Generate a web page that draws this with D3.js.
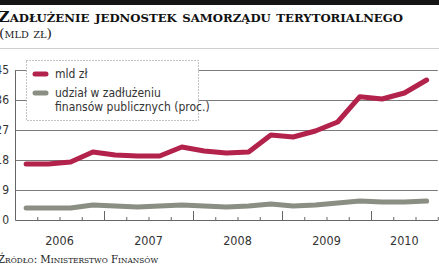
<!DOCTYPE html>
<html>
<head>
<meta charset="utf-8">
<script src="https://cdn.jsdelivr.net/npm/d3@7"></script>
<style>
  body { margin: 0; background: #fff; }
  .cond { font-family: "DejaVu Sans Condensed", "Liberation Sans Narrow", "Roboto", sans-serif; font-stretch: condensed; }
</style>
</head>
<body>
<div id="chart"></div>
<script>
// quarterly data, Q1 2006 .. Q3 2010
const years = ["2006", "2007", "2008", "2009", "2010"];
const debtBn = [16.8, 16.8, 17.4, 20.4, 19.5, 19.2, 19.2, 21.9, 20.7, 20.1, 20.4, 25.5,
                24.9, 26.7, 29.4, 37.0, 36.3, 38.1, 42.0];
const sharePct = [3.6, 3.6, 3.6, 4.5, 4.2, 3.9, 4.2, 4.5, 4.2, 3.9, 4.2, 4.8,
                  4.2, 4.5, 5.1, 5.7, 5.4, 5.4, 5.7];
const yTicks = [0, 9, 18, 27, 36, 45];
const legendLabels = [["mld zł"], ["udział w zadłużeniu", "finansów publicznych (proc.)"]];

const width = 439, height = 268;
const red = "#b2224b", grey = "#8b8e83";

const svg = d3.select("#chart").append("svg")
    .attr("width", width)
    .attr("height", height);

// top black bar and separator
svg.append("rect").attr("x", 0).attr("y", 0).attr("width", width).attr("height", 5).attr("fill", "#151515");
svg.append("line").attr("x1", 0).attr("x2", width).attr("y1", 48.5).attr("y2", 48.5)
    .attr("stroke", "#cfcfcf").attr("stroke-width", 1);

// title
svg.append("text")
    .attr("x", -2).attr("y", 22)
    .attr("textLength", 405).attr("lengthAdjust", "spacingAndGlyphs")
    .style("font-family", "'DejaVu Serif', serif")
    .style("font-weight", "bold")
    .style("font-variant", "small-caps")
    .style("font-size", "15px")
    .attr("fill", "#111")
    .text("Zadłużenie jednostek samorządu terytorialnego");
svg.append("text")
    .attr("x", -1).attr("y", 38)
    .attr("textLength", 53).attr("lengthAdjust", "spacingAndGlyphs")
    .style("font-family", "'DejaVu Serif', serif")
    .style("font-variant", "small-caps")
    .style("font-size", "13px")
    .attr("fill", "#222")
    .text("(mld zł)");

const x = d3.scaleLinear().domain([0, 19]).range([15, 437.75]);
const y = d3.scaleLinear().domain([0, 45]).range([220, 70]);

// gridlines
svg.append("g").selectAll("line")
    .data(yTicks.filter(d => d > 0))
    .join("line")
    .attr("x1", x(0)).attr("x2", x(19))
    .attr("y1", d => Math.round(y(d)) + 0.5).attr("y2", d => Math.round(y(d)) + 0.5)
    .attr("stroke", "#7a7a7a").attr("stroke-width", 1);

// y axis labels
const yAxis = svg.append("g")
    .attr("transform", `translate(${x(0)},0)`)
    .call(d3.axisLeft(y).tickValues(yTicks).tickSize(0).tickPadding(6));
yAxis.select(".domain").attr("stroke", "#666");
yAxis.selectAll("text").attr("class", "cond").style("font-size", "12px").attr("fill", "#333");

// x axis: quarter ticks pointing up
const qIdx = d3.range(1, 20);
const minor = svg.append("g")
    .attr("transform", `translate(0,${y(0)})`)
    .call(d3.axisTop(x).tickValues(qIdx.filter(d => d % 4 !== 0)).tickSize(3).tickSizeOuter(0).tickFormat(""));
const major = svg.append("g")
    .attr("transform", `translate(0,${y(0)})`)
    .call(d3.axisTop(x).tickValues(qIdx.filter(d => d % 4 === 0)).tickSize(9).tickSizeOuter(0).tickFormat(""));
minor.select(".domain").attr("stroke", "#666");
major.select(".domain").remove();
svg.selectAll(".tick line").attr("stroke", "#666");

// year labels centred in the visible part of each year
svg.append("g").selectAll("text")
    .data(years)
    .join("text")
    .attr("class", "cond")
    .attr("x", (d, i) => x((i * 4 + Math.min(i * 4 + 4, 19)) / 2))
    .attr("y", 245)
    .attr("text-anchor", "middle")
    .style("font-size", "12.5px")
    .attr("fill", "#333")
    .text(d => d);

// lines
const line = d3.line().x((d, i) => x(i + 0.5)).y(d => y(d));
svg.append("path").datum(sharePct)
    .attr("d", line).attr("fill", "none")
    .attr("stroke", grey).attr("stroke-width", 5)
    .attr("stroke-linejoin", "round").attr("stroke-linecap", "round");
svg.append("path").datum(debtBn)
    .attr("d", line).attr("fill", "none")
    .attr("stroke", red).attr("stroke-width", 5)
    .attr("stroke-linejoin", "round").attr("stroke-linecap", "round");

// legend
const legend = svg.append("g");
legend.append("rect")
    .attr("x", 26.5).attr("y", 60.5).attr("width", 172).attr("height", 60)
    .attr("fill", "#fff").attr("stroke", "#888").attr("stroke-dasharray", "1,2");
const legendRows = [
  {color: red, lines: legendLabels[0], y: 74},
  {color: grey, lines: legendLabels[1], y: 93}
];
legendRows.forEach(r => {
  legend.append("line")
      .attr("x1", 35).attr("x2", 46).attr("y1", r.y).attr("y2", r.y)
      .attr("stroke", r.color).attr("stroke-width", 5).attr("stroke-linecap", "round");
  const t = legend.append("text").attr("class", "cond")
      .style("font-size", "12px").attr("fill", "#333");
  r.lines.forEach((l, i) => {
    t.append("tspan").attr("x", 55).attr("y", r.y + 4 + i * 14).text(l);
  });
});

// source
svg.append("text")
    .attr("x", -2).attr("y", 263)
    .attr("textLength", 160).attr("lengthAdjust", "spacingAndGlyphs")
    .style("font-family", "'DejaVu Serif', serif")
    .style("font-variant", "small-caps")
    .style("font-size", "11px")
    .attr("fill", "#222")
    .text("Źródło: Ministerstwo Finansów");
</script>
</body>
</html>
